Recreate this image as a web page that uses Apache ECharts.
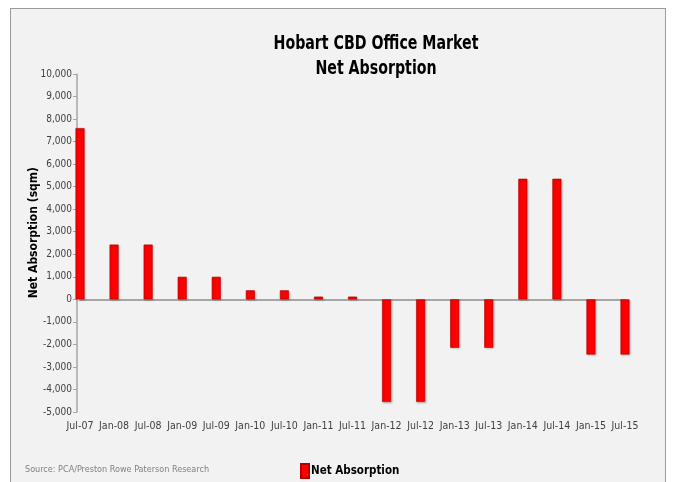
<!DOCTYPE html>
<html>
<head>
<meta charset="utf-8">
<script src="https://cdn.jsdelivr.net/npm/echarts@6/dist/echarts.min.js"></script>
<style>
  html, body { margin: 0; padding: 0; background: #ffffff; }
  #frame { position: absolute; left: 10px; top: 8px; width: 656px; height: 480px;
           background: #f2f2f2; border: 1px solid #9a9a9a; box-sizing: border-box; }
  #chart { position: absolute; left: 0; top: 0; width: 676px; height: 482px; }
</style>
</head>
<body>
<div id="frame"></div>
<div id="chart"></div>
<script>
// Half-yearly periods
const periods = ['Jul-07','Jan-08','Jul-08','Jan-09','Jul-09','Jan-10','Jul-10','Jan-11','Jul-11',
                 'Jan-12','Jul-12','Jan-13','Jul-13','Jan-14','Jul-14','Jan-15','Jul-15'];
// Net absorption, sqm
const netAbsorption = [7600, 2430, 2430, 1000, 1000, 400, 400, 120, 120,
                       -4550, -4550, -2150, -2150, 5350, 5350, -2450, -2450];
// Value axis range and step
const yMin = -5000, yMax = 10000, yStep = 1000;

const font = '"DejaVu Sans Condensed", "Liberation Sans", sans-serif';
const chart = echarts.init(document.getElementById('chart'));
chart.setOption({
  backgroundColor: 'transparent',
  animation: false,
  legend: {
    data: [{ name: 'Net Absorption', icon: 'rect' }], left: 295, top: 458,
    itemWidth: 8, itemHeight: 14, itemGap: 2,
    textStyle: { fontFamily: font, fontWeight: 'bold', fontSize: 11.5, color: '#000', padding: [0,0,0,-3] }
  },
  grid: { left: 80, right: 51, top: 74, bottom: 70, containLabel: false },
  xAxis: [{
    type: 'category', data: periods, boundaryGap: false,
    axisLine: { onZero: false, show: false }, axisTick: { show: false },
    axisLabel: { fontFamily: font, fontSize: 10.5, color: '#404040', margin: 9, interval: 0 }
  }, {
    type: 'category', data: periods, boundaryGap: false,
    axisLine: { onZero: true, onZeroAxisIndex: 0, lineStyle: { color: '#a6a6a6', width: 2 } },
    axisTick: { show: false }, axisLabel: { show: false }
  }],
  yAxis: {
    type: 'value', min: yMin, max: yMax, interval: yStep, offset: 3,
    axisLine: { show: true, lineStyle: { color: '#a6a6a6', width: 1.5 } },
    axisTick: { show: true, length: 4, lineStyle: { color: '#a6a6a6' } },
    splitLine: { show: false },
    axisLabel: { fontFamily: font, fontSize: 10, color: '#404040', margin: 5,
      formatter: v => v.toLocaleString('en-US') }
  },
  graphic: [{
    type: 'text', x: 376, y: 32, scaleX: 0.83,
    style: { text: 'Hobart CBD Office Market\nNet Absorption', fontFamily: font, fontWeight: 'bold',
      fontSize: 19, lineHeight: 25, fill: '#000', textAlign: 'center', textVerticalAlign: 'top' }
  }, {
    type: 'text', left: 28, top: 167, rotation: Math.PI / 2,
    style: { text: 'Net Absorption (sqm)', fontFamily: font, fontWeight: 'bold', fontSize: 12, fill: '#000' }
  }, {
    type: 'text', left: 25, top: 465,
    style: { text: 'Source: PCA/Preston Rowe Paterson Research', fontFamily: font, fontSize: 9, fill: '#808080' }
  }],
  series: [{
    name: 'Net Absorption', type: 'bar', data: netAbsorption, barWidth: 9, clip: false,
    itemStyle: { color: '#ff0000', borderColor: '#b00000', borderWidth: 0.6,
      shadowColor: 'rgba(0,0,0,0.25)', shadowBlur: 2, shadowOffsetX: 1, shadowOffsetY: 1 }
  }]
});
</script>
</body>
</html>
